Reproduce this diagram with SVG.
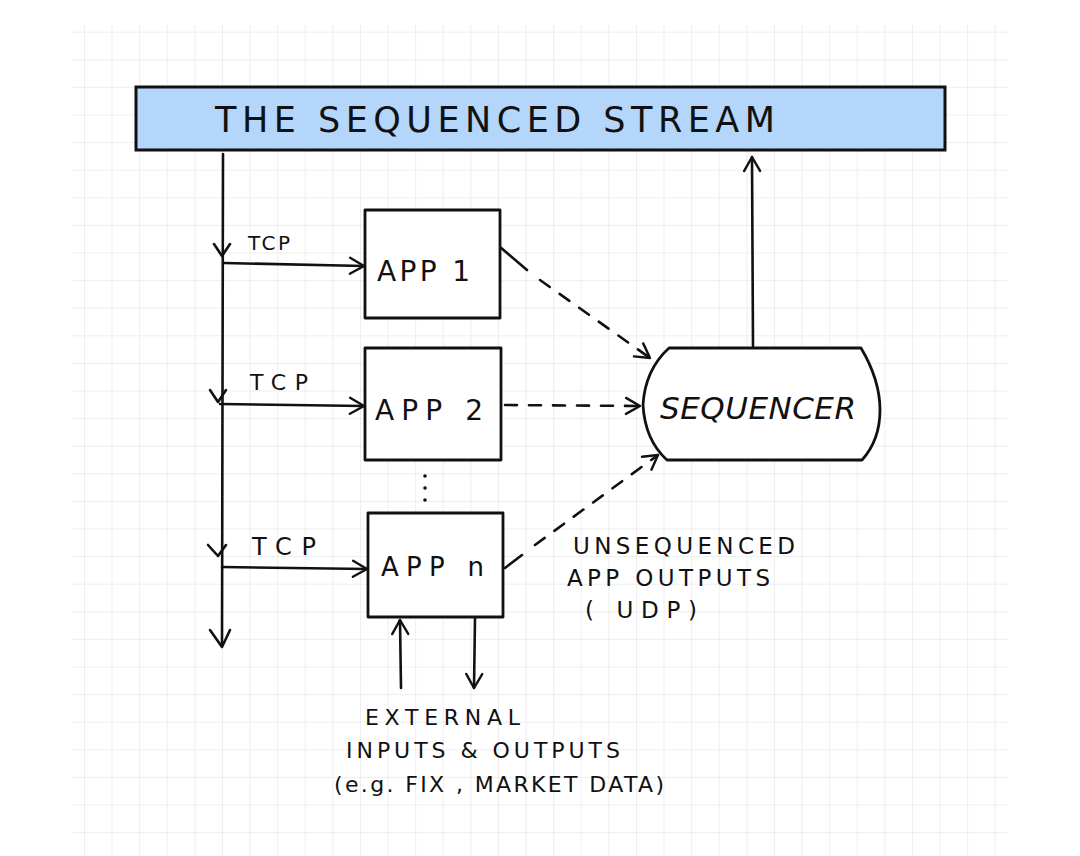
<svg xmlns="http://www.w3.org/2000/svg" width="1080" height="856" viewBox="0 0 1080 856">
<defs>
<pattern id="grid" x="84" y="31.7" width="27.6" height="27.6" patternUnits="userSpaceOnUse">
<path d="M0 0 V27.6 M0 0 H27.6" fill="none" stroke="#dedede" stroke-width="1"/>
</pattern>
<marker id="ah" viewBox="0 0 20 20" refX="18" refY="10" markerWidth="20" markerHeight="20" markerUnits="userSpaceOnUse" orient="auto">
<path d="M4 2 L18 10 L4 18" fill="none" stroke="#111" stroke-width="2.4" stroke-linecap="round" stroke-linejoin="round"/>
</marker>
</defs>
<style>
.ln{fill:none;stroke:#111;stroke-width:2.6;stroke-linecap:round;stroke-linejoin:round}
.dash{fill:none;stroke:#111;stroke-width:2.6;stroke-linecap:round;stroke-dasharray:12 12}
.box{fill:#fff;stroke:#111;stroke-width:2.8;stroke-linejoin:round}
.t{font-family:"DejaVu Sans","Liberation Sans",sans-serif;fill:#111}
</style>
<rect width="1080" height="856" fill="#fff"/>
<rect x="72" y="25" width="936" height="831" fill="url(#grid)"/>

<g id="stream">
<rect x="136" y="87" width="809" height="63" fill="#b3d6fa" stroke="#111" stroke-width="3"/>
<text class="t" x="215" y="132" font-size="35" textLength="560" lengthAdjust="spacing">THE SEQUENCED STREAM</text>
</g>

<g id="connectors">
<path class="ln" d="M223 154 L222 645"/>
<path class="ln" d="M210 630 L222 647 L230 630"/>
<path class="ln" d="M214 244 L222 256 L230 244"/>
<path class="ln" d="M210 390 L218 402 L226 390"/>
<path class="ln" d="M208 545 L218 556 L226 545"/>
<path class="ln" d="M224 263 L364 266" marker-end="url(#ah)"/>
<path class="ln" d="M220 404 L364 406" marker-end="url(#ah)"/>
<path class="ln" d="M222 567 L367 569" marker-end="url(#ah)"/>
<path class="ln" d="M753 346 L752 157" marker-end="url(#ah)"/>
<path class="ln" d="M500 247 L527 270"/>
<path class="dash" d="M540 280 L650 358" marker-end="url(#ah)"/>
<path class="dash" d="M505 405 L640 406" marker-end="url(#ah)"/>
<path class="ln" d="M505 568 L522 555"/>
<path class="dash" d="M535 545 L658 455" marker-end="url(#ah)"/>
<path class="ln" d="M401 688 L400 620" marker-end="url(#ah)"/>
<path class="ln" d="M475 618 L474 688" marker-end="url(#ah)"/>
</g>

<g id="app1">
<rect class="box" x="365" y="210" width="135" height="108"/>
<text class="t" x="377" y="281" font-size="28" textLength="93" lengthAdjust="spacing">APP 1</text>
</g>
<g id="app2">
<rect class="box" x="365" y="348" width="136" height="112"/>
<text class="t" x="375" y="420" font-size="28" textLength="108" lengthAdjust="spacing">APP 2</text>
</g>
<g id="dots">
<circle cx="425" cy="476" r="1.8" fill="#111"/>
<circle cx="425" cy="488" r="1.8" fill="#111"/>
<circle cx="425" cy="500" r="1.8" fill="#111"/>
</g>
<g id="appn">
<rect class="box" x="368" y="513" width="135" height="104"/>
<text class="t" x="381" y="576" font-size="26" textLength="103" lengthAdjust="spacing">APP n</text>
</g>

<g id="sequencer">
<path class="box" d="M669 348 L861 348 Q880 380 880 410 Q880 440 862 460 L667 460 Q645 440 643 405 Q645 370 669 348 Z"/>
<text class="t" x="660" y="419" font-size="31" font-style="italic" textLength="196" lengthAdjust="spacing">SEQUENCER</text>
</g>

<g id="labels">
<text class="t" x="248" y="250" font-size="20" textLength="42" lengthAdjust="spacing">TCP</text>
<text class="t" x="250" y="390" font-size="22" textLength="58" lengthAdjust="spacing">TCP</text>
<text class="t" x="252" y="555" font-size="24" textLength="64" lengthAdjust="spacing">TCP</text>
<text class="t" x="573" y="554" font-size="23" textLength="222" lengthAdjust="spacing">UNSEQUENCED</text>
<text class="t" x="567" y="586" font-size="23" textLength="203" lengthAdjust="spacing">APP  OUTPUTS</text>
<text class="t" x="585" y="618" font-size="23" textLength="112" lengthAdjust="spacing">( UDP)</text>
<text class="t" x="365" y="725" font-size="22" textLength="155" lengthAdjust="spacing">EXTERNAL</text>
<text class="t" x="346" y="758" font-size="22" textLength="274" lengthAdjust="spacing">INPUTS &amp; OUTPUTS</text>
<text class="t" x="334" y="792" font-size="22" textLength="330" lengthAdjust="spacing">(e.g.  FIX , MARKET DATA)</text>
</g>
</svg>
